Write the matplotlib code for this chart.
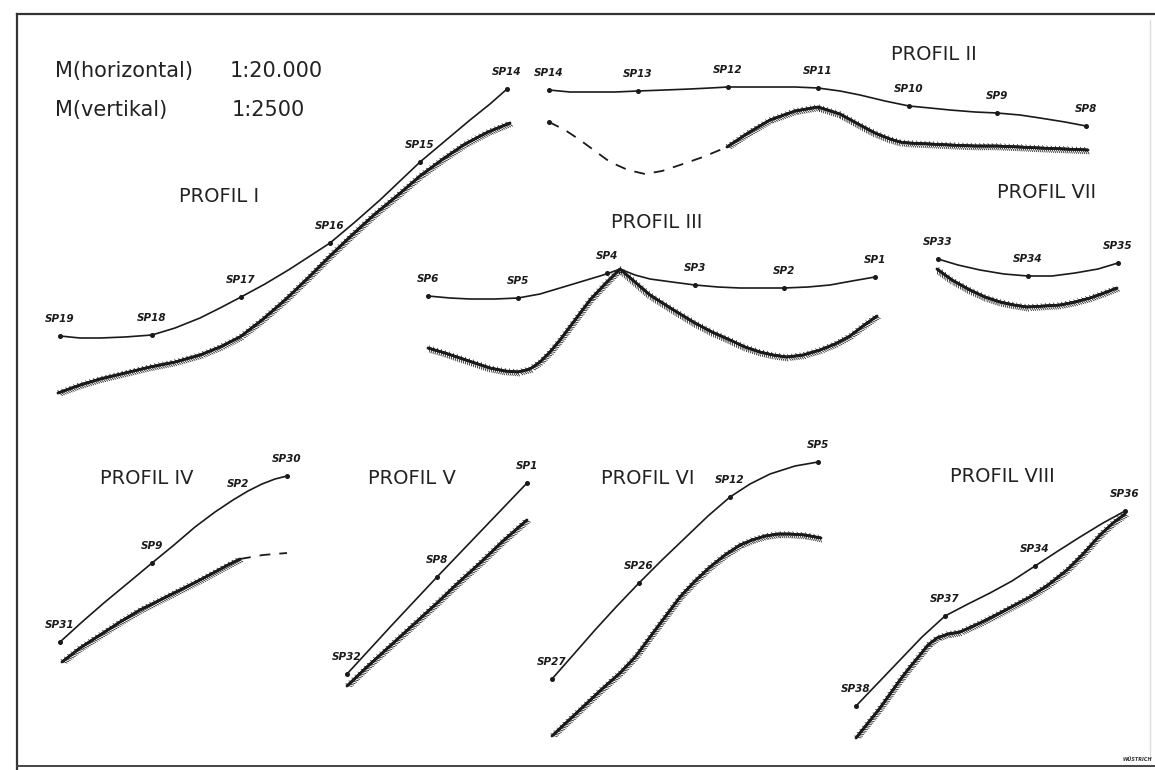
import matplotlib
matplotlib.use('Agg')
import matplotlib.pyplot as plt
import matplotlib.patheffects as pe

# coordinates in pixels (x right, y down)

# Profil I
p1_x = [60, 80, 100, 125, 152, 175, 200, 220, 241, 265, 290, 310, 330, 355, 380, 400, 420, 445, 470, 490, 507]
p1_y = [336, 338, 338, 337, 335, 328, 318, 308, 297, 284, 269, 256, 243, 222, 200, 181, 162, 141, 120, 104, 89]
p1_base_x = [58, 80, 100, 125, 150, 175, 200, 220, 240, 262, 285, 308, 330, 352, 375, 398, 420, 443, 465, 488, 510]
p1_base_y = [393, 385, 379, 373, 367, 362, 355, 347, 337, 320, 300, 278, 256, 235, 214, 195, 176, 159, 144, 132, 123]
p1_sp = ['SP19', 'SP18', 'SP17', 'SP16', 'SP15', 'SP14']
p1_sp_x = [60, 152, 241, 330, 420, 507]
p1_sp_y = [336, 335, 297, 243, 162, 89]

# Profil II
p2_x = [549, 570, 590, 615, 638, 665, 690, 710, 728, 750, 770, 795, 818, 840, 860, 885, 909, 930, 950, 975, 997, 1020, 1040, 1065, 1086]
p2_y = [90, 92, 92, 92, 91, 90, 89, 88, 87, 87, 87, 87, 88, 91, 95, 101, 106, 108, 110, 112, 113, 115, 118, 122, 126]
p2_dash_x = [549, 565, 580, 595, 610, 628, 645, 662, 680, 703, 727]
p2_dash_y = [122, 130, 140, 151, 162, 170, 174, 171, 165, 157, 147]
p2_base_x = [727, 748, 770, 795, 818, 840, 860, 875, 890, 900, 909, 930, 950, 975, 997, 1020, 1040, 1065, 1088]
p2_base_y = [147, 133, 120, 111, 107, 114, 125, 133, 139, 142, 143, 144, 145, 146, 146, 147, 148, 149, 150]
p2_sp = ['SP14', 'SP13', 'SP12', 'SP11', 'SP10', 'SP9', 'SP8']
p2_sp_x = [549, 638, 728, 818, 909, 997, 1086]
p2_sp_y = [90, 91, 87, 88, 106, 113, 126]

# Profil III
p3_x = [428, 450, 470, 495, 518, 540, 560, 580, 600, 612, 620, 635, 650, 672, 695, 718, 740, 762, 784, 808, 830, 852, 875]
p3_y = [296, 298, 299, 299, 298, 294, 288, 282, 276, 272, 269, 275, 279, 282, 285, 287, 288, 288, 288, 287, 285, 281, 277]
p3_base_x = [428, 445, 460, 475, 490, 505, 518, 530, 540, 550, 560, 575, 590, 605, 620, 635, 650, 672, 695, 712, 730, 745, 760, 773, 787, 803, 820, 835, 850, 863, 877]
p3_base_y = [348, 353, 358, 363, 368, 371, 372, 369, 362, 352, 340, 320, 300, 284, 269, 282, 295, 309, 323, 332, 340, 347, 352, 355, 357, 355, 350, 344, 336, 326, 316]
p3_sp = ['SP6', 'SP5', 'SP4', 'SP3', 'SP2', 'SP1']
p3_sp_x = [428, 518, 607, 695, 784, 875]
p3_sp_y = [296, 298, 273, 285, 288, 277]

# Profil VII
p7_x = [938, 958, 980, 1004, 1028, 1052, 1075, 1098, 1118]
p7_y = [259, 265, 270, 274, 276, 276, 273, 269, 263]
p7_base_x = [937, 952, 970, 985, 1000, 1014, 1027, 1044, 1060, 1075, 1090, 1104, 1117]
p7_base_y = [269, 280, 290, 297, 302, 305, 307, 306, 305, 302, 298, 293, 288]
p7_sp = ['SP33', 'SP34', 'SP35']
p7_sp_x = [938, 1028, 1118]
p7_sp_y = [259, 276, 263]

# Profil IV
p4_x = [60, 82, 105, 128, 152, 174, 195, 215, 233, 248, 262, 275, 287]
p4_y = [642, 622, 602, 583, 563, 545, 527, 512, 500, 491, 484, 479, 476]
p4_base_x = [62, 80, 100, 120, 140, 160, 180, 198, 215, 228, 240]
p4_base_y = [662, 648, 635, 622, 610, 600, 590, 581, 572, 565, 559]
p4_dash_x = [240, 263, 287]
p4_dash_y = [559, 555, 553]
p4_sp = ['SP31', 'SP9', 'SP30']
p4_sp_x = [60, 152, 287]
p4_sp_y = [642, 563, 476]

# Profil V
p5_x = [347, 392, 437, 482, 527]
p5_y = [674, 625, 577, 530, 483]
p5_base_x = [347, 368, 390, 413, 437, 458, 480, 503, 527]
p5_base_y = [686, 666, 646, 625, 603, 583, 563, 541, 520]
p5_sp = ['SP32', 'SP8', 'SP1']
p5_sp_x = [347, 437, 527]
p5_sp_y = [674, 577, 483]

# Profil VI
p6_x = [552, 574, 595, 617, 639, 662, 685, 708, 730, 750, 770, 795, 818]
p6_y = [679, 654, 630, 606, 583, 560, 538, 516, 497, 484, 474, 466, 462]
p6_base_x = [552, 568, 585, 602, 620, 636, 650, 665, 680, 695, 710, 725, 740, 752, 765, 778, 790, 805, 821]
p6_base_y = [736, 721, 705, 689, 673, 656, 637, 617, 597, 581, 567, 555, 545, 540, 536, 534, 534, 535, 538]
p6_sp = ['SP27', 'SP26', 'SP12', 'SP5']
p6_sp_x = [552, 639, 730, 818]
p6_sp_y = [679, 583, 497, 462]

# Profil VIII
p8_x = [856, 878, 900, 922, 945, 968, 990, 1012, 1035, 1058, 1080, 1103, 1125]
p8_y = [706, 683, 660, 637, 616, 604, 593, 581, 566, 551, 537, 523, 511]
p8_base_x = [856, 868, 880, 890, 900, 910, 920, 928, 937, 948, 960, 980, 1000, 1015, 1030, 1048, 1067, 1084, 1100, 1113, 1125]
p8_base_y = [738, 723, 708, 694, 680, 667, 655, 645, 638, 634, 632, 623, 613, 605, 597, 585, 570, 553, 535, 523, 514]
p8_sp = ['SP38', 'SP37', 'SP34', 'SP36']
p8_sp_x = [856, 945, 1035, 1125]
p8_sp_y = [706, 616, 566, 511]

# extra labels without marker
extra_labels = [('SP2', 238, 484)]

titles = ['PROFIL I', 'PROFIL II', 'PROFIL III', 'PROFIL IV',
          'PROFIL V', 'PROFIL VI', 'PROFIL VII', 'PROFIL VIII']
title_x = [219, 934, 657, 147, 412, 648, 1047, 1002]
title_y = [197, 55, 223, 479, 478, 479, 192, 477]

fig = plt.figure(figsize=(11.55, 7.7), dpi=100)
ax = fig.add_axes([0, 0, 1, 1])
ax.set_xlim(0, 1155)
ax.set_ylim(770, 0)
ax.axis('off')

# frame
ax.plot([17, 1155], [14, 14], color='#333333', lw=1.6)
ax.plot([17, 17], [14, 770], color='#333333', lw=1.6)
ax.plot([17, 1155], [766, 766], color='#444444', lw=1.4)
ax.plot([1150, 1150], [20, 760], color='#dddddd', lw=1.0)

hatch = [pe.withTickedStroke(angle=-60, spacing=1.5, length=2.2, linewidth=0.55),
         pe.withTickedStroke(angle=120, spacing=3.0, length=0.7, linewidth=0.5),
         pe.Normal()]

profiles = [
    (p1_x, p1_y, p1_base_x, p1_base_y, p1_sp, p1_sp_x, p1_sp_y),
    (p2_x, p2_y, p2_base_x, p2_base_y, p2_sp, p2_sp_x, p2_sp_y),
    (p3_x, p3_y, p3_base_x, p3_base_y, p3_sp, p3_sp_x, p3_sp_y),
    (p4_x, p4_y, p4_base_x, p4_base_y, p4_sp, p4_sp_x, p4_sp_y),
    (p5_x, p5_y, p5_base_x, p5_base_y, p5_sp, p5_sp_x, p5_sp_y),
    (p6_x, p6_y, p6_base_x, p6_base_y, p6_sp, p6_sp_x, p6_sp_y),
    (p7_x, p7_y, p7_base_x, p7_base_y, p7_sp, p7_sp_x, p7_sp_y),
    (p8_x, p8_y, p8_base_x, p8_base_y, p8_sp, p8_sp_x, p8_sp_y),
]

for sx, sy, bx, by, names, px, py in profiles:
    ax.plot(sx, sy, color='#1a1a1a', lw=1.2, solid_joinstyle='round')
    ax.plot(px, py, 'o', color='#1a1a1a', ms=2.6)
    ax.plot(bx, by, color='#1a1a1a', lw=1.8, solid_joinstyle='round',
            solid_capstyle='round', path_effects=hatch)
    for name, x, y in zip(names, px, py):
        ax.text(x, y - 12, name, fontsize=7.5, fontweight='bold', style='italic',
                ha='center', va='bottom', color='#1a1a1a')

for name, x, y in extra_labels:
    ax.text(x, y, name, fontsize=7.5, fontweight='bold', style='italic',
            ha='center', va='center', color='#1a1a1a')

# uncertain parts of the boundary
ax.plot(p2_dash_x, p2_dash_y, color='#1a1a1a', lw=1.3, dashes=(6, 5))
ax.plot(p4_dash_x, p4_dash_y, color='#1a1a1a', lw=1.3, dashes=(6, 5))
ax.plot([p2_dash_x[0]], [p2_dash_y[0]], 'o', color='#1a1a1a', ms=2.6)

for t, x, y in zip(titles, title_x, title_y):
    ax.text(x, y, t, fontsize=14, ha='center', va='center', color='#222222')

ax.text(55, 71, 'M(horizontal)', fontsize=15, ha='left', va='center', color='#222222')
ax.text(230, 71, '1:20.000', fontsize=15, ha='left', va='center', color='#222222')
ax.text(55, 110, 'M(vertikal)', fontsize=15, ha='left', va='center', color='#222222')
ax.text(232, 110, '1:2500', fontsize=15, ha='left', va='center', color='#222222')

ax.text(1137, 762, 'WÜSTRICH', fontsize=3.5, style='italic', fontweight='bold',
        ha='center', va='bottom', color='#333333')

plt.savefig('out.png', dpi=100)
